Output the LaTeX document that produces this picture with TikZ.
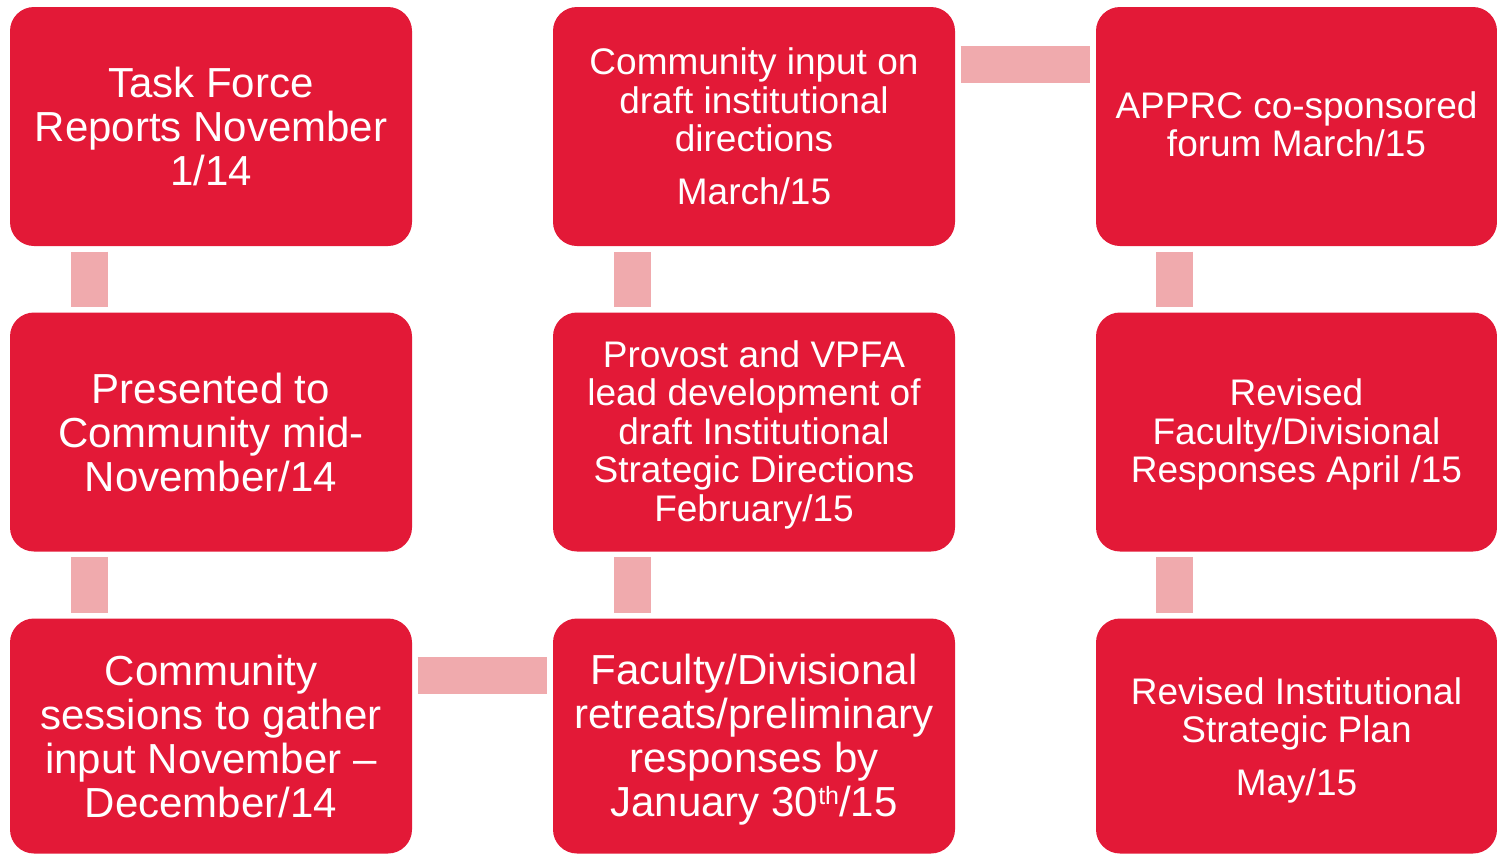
\documentclass[tikz,border=0pt]{standalone}
\usepackage{fontspec}
\setmainfont{Liberation Sans}
\usetikzlibrary{calc}
\definecolor{boxred}{RGB}{227,25,55}
\definecolor{linkpink}{RGB}{240,170,173}
\tikzset{
  stepbox/.style={fill=boxred, draw=none, rounded corners=24pt, minimum width=402pt,
    minimum height=239pt, inner sep=0pt},
  boxtext/.style={inner sep=0pt, align=center, text=white},
  bigtext/.style={boxtext, font=\fontsize{42}{44}\selectfont},
  smalltext/.style={boxtext, font=\fontsize{37}{38.5}\selectfont},
  link/.style={draw=linkpink, line width=37pt, line cap=butt, shorten <=5.5pt, shorten >=5.5pt},
}
\begin{document}
\begin{tikzpicture}[x=1pt,y=-1pt]
\useasboundingbox (0,0) rectangle (1497,855);
% boxes
\node[stepbox] (a1) at (211,126.5) {};
\node[stepbox] (a2) at (211,432) {};
\node[stepbox,minimum height=235pt] (a3) at (211,736) {};
\node[stepbox] (b1) at (754,126.5) {};
\node[stepbox] (b2) at (754,432) {};
\node[stepbox,minimum height=235pt] (b3) at (754,736) {};
\node[stepbox,minimum width=401pt] (c1) at (1296.5,126.5) {};
\node[stepbox,minimum width=401pt] (c2) at (1296.5,432) {};
\node[stepbox,minimum width=401pt,minimum height=235pt] (c3) at (1296.5,736) {};
% texts
\node[bigtext] (a1t) at (a1) {Task Force\\Reports November\\1/14};
\node[bigtext] (a2t) at (a2) {Presented to\\Community mid-\\November/14};
\node[bigtext] (a3t) at (a3) {Community\\sessions to gather\\input November --\\December/14};
\node[smalltext] (b1t) at (b1) {Community input on\\draft institutional\\directions\\[14pt]March/15};
\node[smalltext,yshift=-2.5pt] (b2t) at (b2) {Provost and VPFA\\lead development of\\draft Institutional\\Strategic Directions\\February/15};
\node[bigtext,yshift=-4pt] (b3t) at (b3) {Faculty/Divisional\\retreats/preliminary\\responses by\\January 30\raisebox{12pt}{\fontsize{25}{25}\selectfont th}/15};
\node[smalltext,yshift=2pt] (c1t) at (c1) {APPRC co-sponsored\\forum March/15};
\node[smalltext,yshift=-2.5pt] (c2t) at (c2) {Revised\\Faculty/Divisional\\Responses April /15};
\node[smalltext,yshift=-4pt] (c3t) at (c3) {Revised Institutional\\Strategic Plan\\[14pt]May/15};
% connectors
\draw[link] ($(a1.south west)+(79.5,0)$) -- ($(a2.north west)+(79.5,0)$);
\draw[link] ($(a2.south west)+(79.5,0)$) -- ($(a3.north west)+(79.5,0)$);
\draw[link] ($(a3.north east)+(0,57.5)$) -- ($(b3.north west)+(0,57.5)$);
\draw[link] ($(b3.north west)+(79.5,0)$) -- ($(b2.south west)+(79.5,0)$);
\draw[link] ($(b2.north west)+(79.5,0)$) -- ($(b1.south west)+(79.5,0)$);
\draw[link] ($(b1.north east)+(0,57.5)$) -- ($(c1.north west)+(0,57.5)$);
\draw[link] ($(c1.south west)+(79,0)$) -- ($(c2.north west)+(79,0)$);
\draw[link] ($(c2.south west)+(79,0)$) -- ($(c3.north west)+(79,0)$);
\end{tikzpicture}
\end{document}
